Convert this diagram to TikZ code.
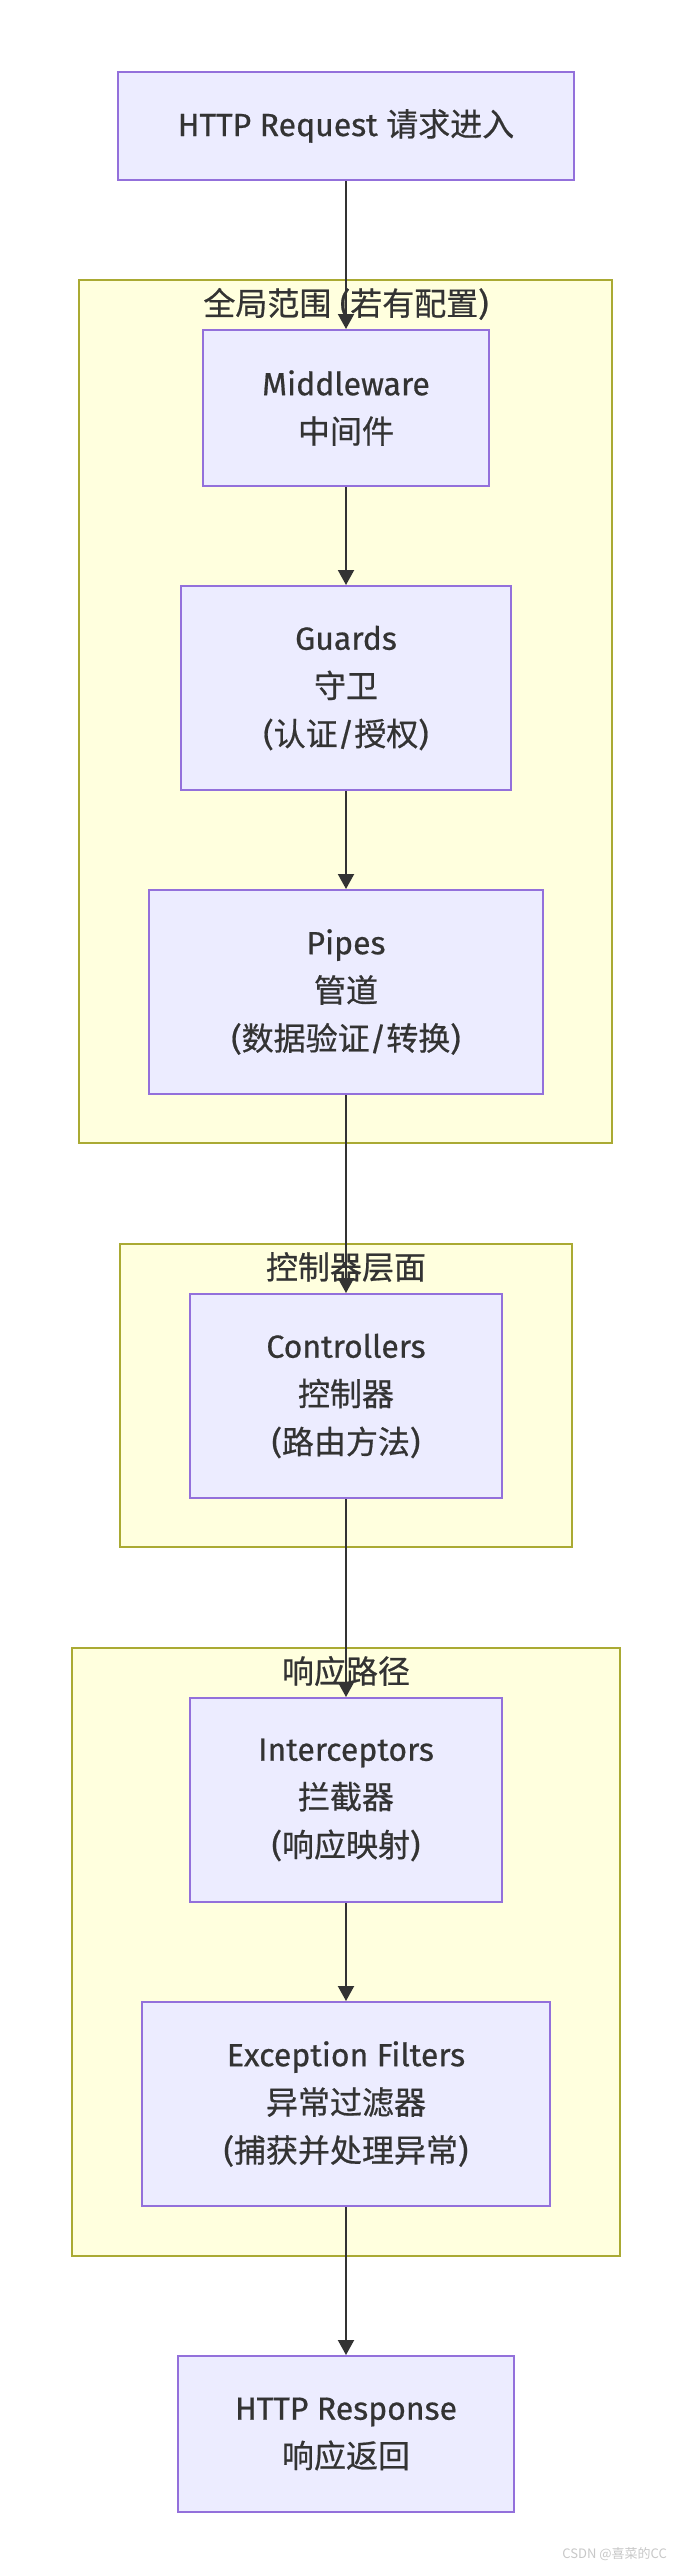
\documentclass[tikz,border=0pt]{standalone}
\usepackage{fontspec}
\setmainfont{Fira Sans}[FakeBold=0.6,AutoFakeBold=0.6]
\newfontfamily\cjk{Noto Sans CJK SC}[FakeBold=0.6]
\newfontfamily\wmfont{Noto Sans CJK SC}
\newcommand\zh[1]{{\cjk #1}}
\usetikzlibrary{arrows.meta}
\definecolor{nodefill}{HTML}{ECECFF}
\definecolor{nodeline}{HTML}{9370DB}
\definecolor{clfill}{HTML}{FFFFDE}
\definecolor{clline}{HTML}{AAAA33}
\definecolor{txt}{HTML}{333333}
\definecolor{wm}{HTML}{C8C8C8}
\tikzset{
  stepbox/.style={draw=nodeline, fill=nodefill, line width=2pt, align=center,
    text=txt, font=\fontsize{32}{48}\selectfont, inner sep=0pt},
  clusterbox/.style={draw=clline, fill=clfill, line width=2pt, inner sep=0pt},
  cltitle/.style={text=txt, font=\fontsize{32}{48}\selectfont, inner sep=0pt},
  flow/.style={draw=txt, line width=2pt, -{Triangle[length=15pt,width=16pt]}}
}
\begin{document}
\begin{tikzpicture}[x=1pt,y=-1pt]
\useasboundingbox[fill=white] (0,0) rectangle (676,2568);
% clusters
\node[clusterbox, minimum width=533pt, minimum height=863pt] (gc) at (345.5,711.5) {};
\node[cltitle] (gct) at (346,304) {\zh{全局范围} (\zh{若有配置})};
\node[clusterbox, minimum width=452pt, minimum height=303pt] (cc) at (346,1395.5) {};
\node[cltitle] (cct) at (346,1267) {\zh{控制器层面}};
\node[clusterbox, minimum width=548pt, minimum height=608pt] (rc) at (346,1952) {};
\node[cltitle] (rct) at (346,1671) {\zh{响应路径}};
% nodes
\node[stepbox, minimum width=456pt, minimum height=108pt] (req) at (346,126) {HTTP Request \zh{请求进入}};
\node[stepbox, minimum width=286pt, minimum height=156pt] (mw) at (346,408) {Middleware\\\zh{中间件}};
\node[stepbox, minimum width=330pt, minimum height=204pt] (gd) at (346,688) {Guards\\\zh{守卫}\\(\zh{认证}/\zh{授权})};
\node[stepbox, minimum width=394pt, minimum height=204pt] (pp) at (346,992) {Pipes\\\zh{管道}\\(\zh{数据验证}/\zh{转换})};
\node[stepbox, minimum width=312pt, minimum height=204pt] (ct) at (346,1396) {Controllers\\\zh{控制器}\\(\zh{路由方法})};
\node[stepbox, minimum width=312pt, minimum height=204pt] (ic) at (346,1800) {Interceptors\\\zh{拦截器}\\(\zh{响应映射})};
\node[stepbox, minimum width=408pt, minimum height=204pt] (ef) at (346,2104) {Exception Filters\\\zh{异常过滤器}\\(\zh{捕获并处理异常})};
\node[stepbox, minimum width=336pt, minimum height=156pt] (rs) at (346,2434) {HTTP Response\\\zh{响应返回}};
% connectors
\draw[flow] (req.south) -- (mw.north);
\draw[flow] (mw.south) -- (gd.north);
\draw[flow] (gd.south) -- (pp.north);
\draw[flow] (pp.south) -- (ct.north);
\draw[flow] (ct.south) -- (ic.north);
\draw[flow] (ic.south) -- (ef.north);
\draw[flow] (ef.south) -- (rs.north);
% watermark
\node[anchor=east, text=wm, font=\wmfont\fontsize{13}{16}\selectfont, inner sep=0pt] (wmk) at (667,2554) {CSDN @喜菜的CC};
\end{tikzpicture}
\end{document}
